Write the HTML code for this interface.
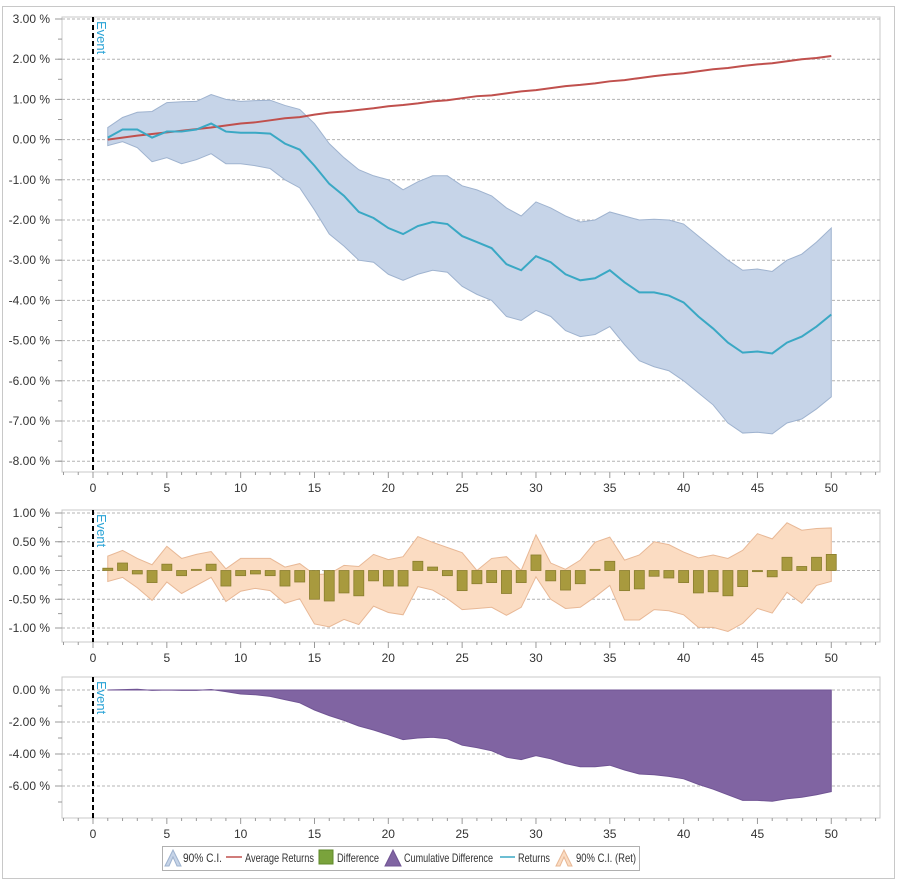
<!DOCTYPE html>
<html><head><meta charset="utf-8">
<style>
body{margin:0;background:#fff;font-family:"Liberation Sans","DejaVu Sans",sans-serif;}
svg text{font-family:"Liberation Sans","DejaVu Sans",sans-serif;font-size:12px;fill:#333;}
</style></head>
<body>
<svg id="c" width="897" height="885" xmlns="http://www.w3.org/2000/svg"></svg>
<script>
const days=[];for(let i=1;i<=50;i++)days.push(i);
const returns=[0.05,0.25,0.25,0.05,0.2,0.2,0.25,0.4,0.2,0.17,0.17,0.15,-0.1,-0.25,-0.65,-1.1,-1.4,-1.8,-1.95,-2.2,-2.35,-2.15,-2.05,-2.1,-2.4,-2.55,-2.7,-3.1,-3.25,-2.9,-3.05,-3.35,-3.5,-3.45,-3.25,-3.55,-3.8,-3.8,-3.88,-4.05,-4.4,-4.7,-5.05,-5.3,-5.27,-5.32,-5.05,-4.9,-4.65,-4.35];
const ciUpper=[0.3,0.55,0.68,0.7,0.92,0.94,0.95,1.12,1.0,0.95,0.97,0.98,0.85,0.75,0.4,-0.1,-0.45,-0.75,-0.9,-1.0,-1.25,-1.05,-0.9,-0.9,-1.15,-1.25,-1.4,-1.7,-1.9,-1.55,-1.7,-1.9,-2.05,-2.0,-1.8,-1.9,-2.0,-1.98,-2.0,-2.1,-2.4,-2.7,-3.0,-3.25,-3.22,-3.28,-3.0,-2.85,-2.55,-2.2];
const ciLower=[-0.15,-0.05,-0.2,-0.55,-0.45,-0.6,-0.5,-0.35,-0.6,-0.6,-0.65,-0.72,-1.0,-1.2,-1.75,-2.35,-2.65,-3.0,-3.05,-3.35,-3.5,-3.35,-3.25,-3.3,-3.65,-3.85,-4.0,-4.4,-4.5,-4.25,-4.4,-4.75,-4.9,-4.85,-4.65,-5.1,-5.5,-5.65,-5.75,-6.0,-6.3,-6.6,-7.05,-7.3,-7.28,-7.32,-7.05,-6.95,-6.7,-6.4];
const avgReturns=[0.0,0.05,0.1,0.14,0.18,0.22,0.26,0.3,0.35,0.4,0.43,0.48,0.53,0.56,0.62,0.67,0.7,0.74,0.78,0.83,0.86,0.9,0.95,0.98,1.03,1.08,1.1,1.15,1.2,1.23,1.28,1.33,1.36,1.4,1.45,1.48,1.53,1.58,1.62,1.65,1.7,1.75,1.78,1.83,1.87,1.9,1.95,2.0,2.03,2.08];
const difference=[0.04,0.13,-0.06,-0.21,0.11,-0.09,0.02,0.11,-0.27,-0.09,-0.06,-0.09,-0.27,-0.2,-0.5,-0.53,-0.39,-0.44,-0.18,-0.27,-0.27,0.16,0.06,-0.09,-0.35,-0.23,-0.21,-0.4,-0.21,0.27,-0.18,-0.34,-0.23,0.02,0.16,-0.35,-0.32,-0.1,-0.13,-0.21,-0.39,-0.37,-0.44,-0.28,-0.02,-0.11,0.23,0.07,0.23,0.28];
const retUpper=[0.25,0.35,0.21,0.1,0.42,0.21,0.28,0.33,0.03,0.21,0.21,0.21,0.06,0.12,-0.07,-0.06,0.09,0.07,0.28,0.19,0.24,0.59,0.49,0.4,0.31,0.0,0.21,0.24,0.0,0.62,0.13,0.02,0.18,0.49,0.58,0.18,0.27,0.5,0.45,0.32,0.22,0.27,0.21,0.35,0.64,0.55,0.83,0.7,0.73,0.74];
const retLower=[-0.19,-0.12,-0.3,-0.52,-0.2,-0.4,-0.26,-0.12,-0.54,-0.36,-0.31,-0.35,-0.57,-0.49,-0.93,-0.98,-0.85,-0.94,-0.62,-0.73,-0.77,-0.28,-0.34,-0.49,-0.68,-0.66,-0.64,-0.78,-0.64,-0.11,-0.5,-0.66,-0.64,-0.46,-0.26,-0.86,-0.86,-0.68,-0.7,-0.77,-0.99,-0.99,-1.06,-0.92,-0.66,-0.74,-0.38,-0.57,-0.26,-0.19];
const cumDiff=[0,0.02,0.05,-0.02,0,-0.02,-0.02,0.03,-0.1,-0.25,-0.3,-0.4,-0.6,-0.8,-1.25,-1.6,-1.9,-2.25,-2.5,-2.8,-3.1,-3.0,-2.95,-3.05,-3.45,-3.6,-3.8,-4.2,-4.35,-4.1,-4.3,-4.6,-4.8,-4.8,-4.7,-5.0,-5.25,-5.3,-5.4,-5.55,-5.9,-6.2,-6.55,-6.9,-6.9,-6.95,-6.8,-6.7,-6.55,-6.35];
const topTicks=[3,2,1,0,-1,-2,-3,-4,-5,-6,-7,-8];
const midTicks=[1,0.5,0,-0.5,-1];
const botTicks=[0,-2,-4,-6];
const xTicks=[0,5,10,15,20,25,30,35,40,45,50];

const svg=document.getElementById('c');const NS='http://www.w3.org/2000/svg';
function el(t,a,p){const e=document.createElementNS(NS,t);for(const k in a)e.setAttribute(k,a[k]);(p||svg).appendChild(e);return e;}
const X0=62,X1=880,XD0=-2.1,XD1=53.3;
const xs=v=>X0+(v-XD0)/(XD1-XD0)*(X1-X0);
function yScale(v0,y0,pxPer){return v=>y0+(v0-v)*pxPer;}
const yT=yScale(3,19,40.2), yM=yScale(1,513,57.5), yB=yScale(0,690,16);

let f=el('rect',{x:2.5,y:6.5,width:892,height:872,fill:'none',stroke:'#c8c8c8'});


function panel(name,top,bottom,ys,ticks,fmt,minorStep,minorRange){
  const g=el('g',{});
  el('rect',{x:X0,y:top,width:X1-X0,height:bottom-top,fill:'none',stroke:'#c8c8c8'},g);
  for(let v=minorRange[0];v<=minorRange[1]+1e-9;v+=minorStep){const y=ys(v);if(y>top&&y<bottom)el('line',{x1:X0-4,x2:X0,y1:y,y2:y,stroke:'#999'},g);}
  ticks.forEach(v=>{const y=ys(v);
    el('line',{x1:X0,x2:X1,y1:y,y2:y,stroke:'#b4b4b4','stroke-dasharray':'3,2'},g);
    el('line',{x1:X0-7,x2:X0,y1:y,y2:y,stroke:'#999'},g);
    const t=el('text',{x:X0-12,y:y+4,'text-anchor':'end'},g);t.textContent=fmt(v);
    });
  for(let d=-2;d<=53;d++){const x=xs(d);el('line',{x1:x,x2:x,y1:bottom,y2:bottom+(d%5===0?6:3),stroke:'#999'},g);}
  xTicks.forEach(d=>{const t=el('text',{x:xs(d),y:bottom+20,'text-anchor':'middle'},g);t.textContent=d;
    });
  return g;
}
function eventLine(g,top,bottom){
  el('line',{x1:xs(0),x2:xs(0),y1:top,y2:bottom,stroke:'#000','stroke-width':2,'stroke-dasharray':'5,3'},g);
  const t=el('text',{x:0,y:0,transform:`translate(${xs(0)+4},${top+4}) rotate(90)`,style:'fill:#29a3d6;font-size:13px'},g);
  t.textContent='Event';
}
const fmt2=v=>v.toFixed(2)+' %';
function poly(arr,ys){return arr.map((v,i)=>xs(days[i])+','+ys(v)).join(' ');}
function band(up,lo,ys){return poly(up,ys)+' '+lo.map((v,i)=>[xs(days[i]),ys(v)]).reverse().map(p=>p.join(',')).join(' ');}

const gT=panel('returns-panel',17,472,yT,topTicks,fmt2,0.5,[-8,3]);
let p=el('polygon',{points:band(ciUpper,ciLower,yT),fill:'#c6d4e8',stroke:'#9fb3cf'},gT);

eventLine(gT,17,472);
p=el('polyline',{points:poly(avgReturns,yT),fill:'none',stroke:'#c0504d','stroke-width':2},gT);

p=el('polyline',{points:poly(returns,yT),fill:'none',stroke:'#3aa8c4','stroke-width':2},gT);


const gM=panel('difference-panel',510,642,yM,midTicks,fmt2,0.25,[-1.25,1]);
p=el('polygon',{points:band(retUpper,retLower,yM),fill:'#fbdcc2',stroke:'#e8b896'},gM);

eventLine(gM,510,642);
difference.forEach((v,i)=>{const x=xs(days[i]);const y0=yM(0),y1=yM(v);
  const b=el('rect',{x:x-5,y:Math.min(y0,y1),width:10,height:Math.max(1,Math.abs(y1-y0)),fill:'#a89a3e',stroke:'#8a7e2e','stroke-width':0.8},gM);
  });

const gB=panel('cumulative-panel',677,818,yB,botTicks,fmt2,1,[-8,0]);
p=el('polygon',{points:poly(cumDiff,yB)+' '+xs(50)+','+yB(0)+' '+xs(1)+','+yB(0),fill:'#8064a2',stroke:'#705494'},gB);

eventLine(gB,677,818);

const L=el('g',{});
el('rect',{x:162.5,y:846.5,width:477,height:24,fill:'#fff',stroke:'#b0b0b0'},L);
function entry(x,w,label,draw){const g=el('g',{},L);draw(g);
  const t=el('text',{x:x,y:862,textLength:w,lengthAdjust:'spacingAndGlyphs'},g);t.textContent=label;}
entry(183,39,'90% C.I.',g=>el('polygon',{points:'165,866 173,850 181,866 177,866 173,857 169,866',fill:'#c6d4e8',stroke:'#9fb3cf'},g));
entry(245,69,'Average Returns',g=>el('line',{x1:226,x2:242,y1:857,y2:857,stroke:'#c0504d','stroke-width':1.5},g));
entry(337,42,'Difference',g=>el('rect',{x:319,y:850,width:14,height:14,fill:'#7aa33c',stroke:'#5f8a2a'},g));
entry(404,89,'Cumulative Difference',g=>el('polygon',{points:'385,866 393,850 401,866',fill:'#8064a2',stroke:'#705494'},g));
entry(518,32,'Returns',g=>el('line',{x1:500,x2:515,y1:857,y2:857,stroke:'#3aa8c4','stroke-width':1.5},g));
entry(576,60,'90% C.I. (Ret)',g=>el('polygon',{points:'556,866 564,850 572,866 568,866 564,857 560,866',fill:'#fbdcc2',stroke:'#e8b896'},g));
</script>
</body></html>
